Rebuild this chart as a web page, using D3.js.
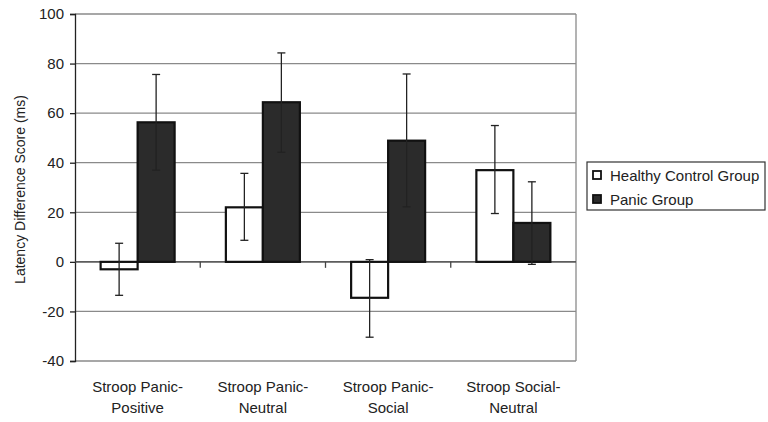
<!DOCTYPE html>
<html>
<head>
<meta charset="utf-8">
<script src="https://cdn.jsdelivr.net/npm/d3@7"></script>
<style>
  body { margin: 0; background: #fff; }
  svg { display: block; font-family: "Liberation Sans", Arial, sans-serif; }
</style>
</head>
<body>
<div id="chart"></div>
<script>
// Данные
const categories = [["Stroop Panic-", "Positive"], ["Stroop Panic-", "Neutral"], ["Stroop Panic-", "Social"], ["Stroop Social-", "Neutral"]];
const seriesNames = ["Healthy Control Group", "Panic Group"];
const healthy = [-3, 22, -14.5, 37];
const healthyLow = [-13.5, 8.7, -30.4, 19.5];
const healthyHigh = [7.5, 35.7, 0.9, 55];
const panic = [56.3, 64.4, 48.9, 15.7];
const panicLow = [37, 44.2, 22.2, -1];
const panicHigh = [75.6, 84.3, 75.8, 32.3];
const yTicks = [-40, -20, 0, 20, 40, 60, 80, 100];

const colors = ['#ffffff', '#2b2b2b'];

const width = 768, height = 422;
const plotLeft = 75, plotRight = 576, plotTop = 14, plotBottom = 361;

const svg = d3.select('#chart').append('svg')
    .attr('width', width)
    .attr('height', height);

const yScale = d3.scaleLinear().domain([-40, 100]).range([plotBottom, plotTop]);
const xScale = d3.scaleBand().domain(d3.range(categories.length)).range([plotLeft, plotRight]);
const barW = 37;

// Сетка
svg.selectAll('.grid')
    .data(yTicks)
    .enter()
    .append('line')
    .attr('x1', plotLeft).attr('x2', plotRight)
    .attr('y1', d => yScale(d)).attr('y2', d => yScale(d))
    .style('stroke', '#8a8a8a')
    .style('stroke-width', 1.3);

// Правая граница
svg.append('line')
    .attr('x1', plotRight).attr('x2', plotRight)
    .attr('y1', plotTop).attr('y2', plotBottom)
    .style('stroke', '#8a8a8a')
    .style('stroke-width', 1.3);

// Ось Y
const yAxis = d3.axisLeft(yScale).tickValues(yTicks).tickFormat(d => String(d)).tickSize(5).tickPadding(6);
const gy = svg.append('g').attr('transform', `translate(${plotLeft},0)`).call(yAxis);
gy.select('.domain').style('stroke', '#222').style('stroke-width', 1.3);
gy.selectAll('.tick line').style('stroke', '#222').style('stroke-width', 1.3);
gy.selectAll('.tick text').style('font-size', '15px').style('fill', '#222')
    .style('font-family', '"Liberation Sans", Arial, sans-serif');

// Ось X (линия нуля и метки между категориями)
svg.append('line')
    .attr('x1', plotLeft).attr('x2', plotRight)
    .attr('y1', yScale(0)).attr('y2', yScale(0))
    .style('stroke', '#444').style('stroke-width', 1.3);
svg.selectAll('.xtick')
    .data(d3.range(1, categories.length))
    .enter()
    .append('line')
    .attr('x1', d => xScale(d)).attr('x2', d => xScale(d))
    .attr('y1', yScale(0)).attr('y2', yScale(0) + 6)
    .style('stroke', '#444').style('stroke-width', 1.3);

// Столбцы
const series = [
    {vals: healthy, lo: healthyLow, hi: healthyHigh},
    {vals: panic, lo: panicLow, hi: panicHigh}
];
series.forEach((s, si) => {
    const xOff = si === 0 ? -barW : 0;
    svg.selectAll('.bar' + si)
        .data(s.vals)
        .enter()
        .append('rect')
        .attr('x', (d, i) => xScale(i) + xScale.bandwidth() / 2 + xOff)
        .attr('y', d => yScale(Math.max(0, d)))
        .attr('width', barW)
        .attr('height', d => Math.abs(yScale(d) - yScale(0)))
        .attr('fill', colors[si])
        .style('stroke', '#111')
        .style('stroke-width', 2.2);
});

// Планки погрешностей
series.forEach((s, si) => {
    const xOff = si === 0 ? -barW / 2 : barW / 2;
    const g = svg.append('g');
    s.vals.forEach((v, i) => {
        const cx = xScale(i) + xScale.bandwidth() / 2 + xOff;
        g.append('line')
            .attr('x1', cx).attr('x2', cx)
            .attr('y1', yScale(s.lo[i])).attr('y2', yScale(s.hi[i]))
            .style('stroke', '#222').style('stroke-width', 1.3);
        [s.lo[i], s.hi[i]].forEach(e => {
            g.append('line')
                .attr('x1', cx - 4).attr('x2', cx + 4)
                .attr('y1', yScale(e)).attr('y2', yScale(e))
                .style('stroke', '#222').style('stroke-width', 1.3);
        });
    });
});

// Подписи категорий
svg.selectAll('.cat')
    .data(categories)
    .enter()
    .append('text')
    .attr('text-anchor', 'middle')
    .style('font-size', '15px')
    .style('fill', '#222')
    .each(function (d, i) {
        const t = d3.select(this);
        d.forEach((line, k) => {
            t.append('tspan')
                .attr('x', xScale(i) + xScale.bandwidth() / 2)
                .attr('y', 392 + k * 21)
                .text(line);
        });
    });

// Подпись оси Y
svg.append('text')
    .attr('transform', `translate(25, ${(plotTop + plotBottom) / 2 + 2}) rotate(-90)`)
    .attr('text-anchor', 'middle')
    .style('font-size', '14px')
    .style('fill', '#222')
    .text('Latency Difference Score (ms)');

// Легенда
const legend = svg.append('g');
legend.append('rect')
    .attr('x', 587).attr('y', 162)
    .attr('width', 178).attr('height', 48)
    .attr('fill', 'none')
    .style('stroke', '#333').style('stroke-width', 1.2);
seriesNames.forEach((name, i) => {
    legend.append('rect')
        .attr('x', 593).attr('y', 171 + i * 24)
        .attr('width', 8).attr('height', 8)
        .attr('fill', colors[i])
        .style('stroke', '#111').style('stroke-width', 1.8);
    legend.append('text')
        .attr('x', 610).attr('y', 181 + i * 24)
        .style('font-size', '15px')
        .style('fill', '#222')
        .text(name);
});
</script>
</body>
</html>
